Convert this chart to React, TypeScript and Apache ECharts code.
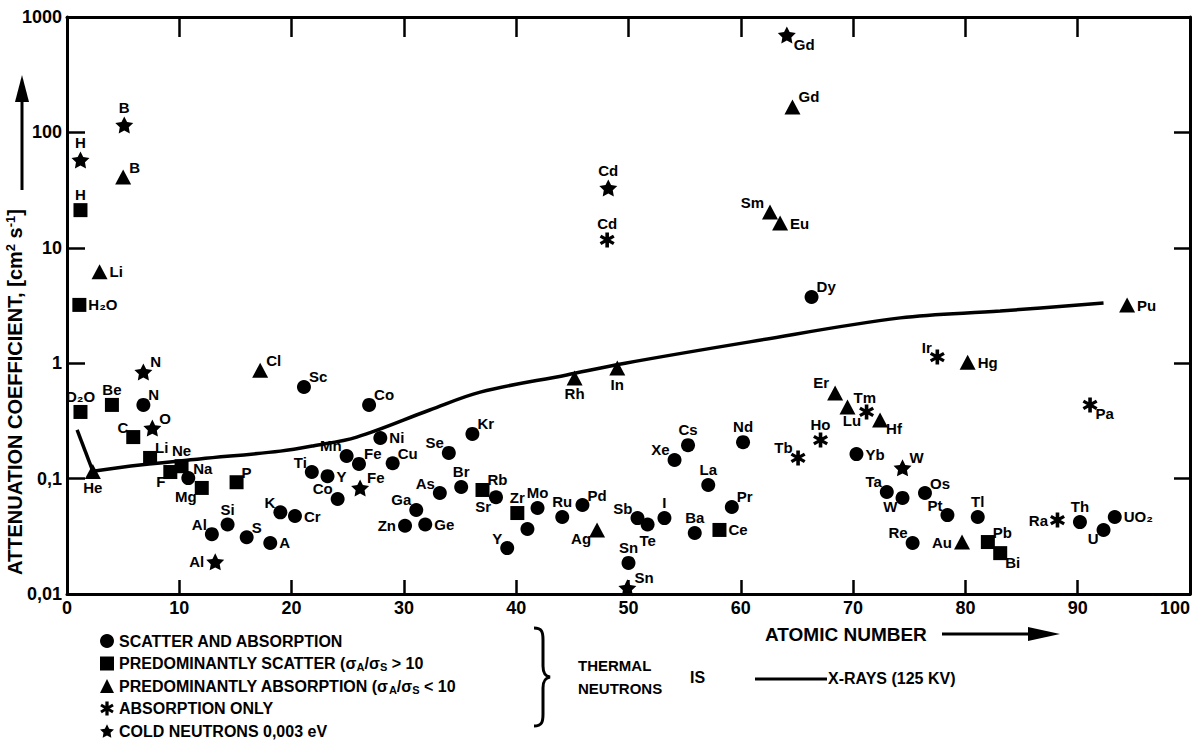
import React, { useEffect, useRef } from "react";
import * as echarts from "echarts";

// ---------- DATA ----------
const SERIES_NAMES = [
  "SCATTER AND ABSORPTION",
  "PREDOMINANTLY SCATTER (σA/σS > 10",
  "PREDOMINANTLY ABSORPTION (σA/σS < 10",
  "ABSORPTION ONLY",
  "COLD NEUTRONS 0,003 eV",
];

const CIRCLE_NAMES = ["N","Na","Al","Si","S","A","K","Cr","Sc","Ti","Y","Co","Mn","Fe","Co","Ni","Cu","Zn","Ga","Ge","As","Se","Br","Kr","Sr","Y","","Mo","Ru","Pd","Sn","Sb","Te","I","Xe","Cs","Ba","La","Pr","Nd","Dy","Yb","Ta","W","Re","Os","Pt","Tl","Th","U","UO₂"];
const CIRCLE_Z = [6.8,10.8,12.9,14.3,16.0,18.1,19.0,20.3,21.1,21.8,23.2,24.1,24.9,26.0,26.9,27.9,29.0,30.1,31.1,31.9,33.2,34.0,35.1,36.1,38.2,39.2,41.0,41.9,44.1,45.9,50.0,50.8,51.7,53.2,54.1,55.3,55.9,57.1,59.2,60.2,66.3,70.3,73.0,74.4,75.3,76.4,78.4,81.1,90.2,92.3,93.3];
const CIRCLE_V = [0.435,0.101,0.033,0.040,0.031,0.0277,0.051,0.0474,0.622,0.114,0.105,0.0666,0.157,0.134,0.435,0.225,0.136,0.039,0.0535,0.040,0.075,0.167,0.0845,0.244,0.069,0.025,0.0366,0.0556,0.0465,0.059,0.0186,0.0455,0.040,0.0455,0.145,0.195,0.0338,0.088,0.0568,0.207,3.75,0.163,0.0766,0.068,0.0277,0.075,0.0483,0.0465,0.042,0.0359,0.0465];

const SQUARE_NAMES = ["H","H₂O","D₂O","Be","C","Li","F","Ne","Mg","P","Rb","Zr","Ce","Pb","Bi"];
const SQUARE_Z = [1.2,1.1,1.2,4.0,5.9,7.4,9.2,10.2,12.0,15.1,37.0,40.1,58.1,82.0,83.1];
const SQUARE_V = [21.2,3.2,0.378,0.435,0.229,0.151,0.114,0.128,0.083,0.093,0.0797,0.0503,0.0359,0.0282,0.0226];

const TRIANGLE_NAMES = ["He","Li","B","Cl","Rh","Ag","In","Sm","Eu","Gd","Er","Tm","Hf","Au","Hg","Pu"];
const TRIANGLE_Z = [2.3,2.9,5.0,17.2,45.2,47.2,49.0,62.6,63.5,64.6,68.4,69.5,72.4,79.7,80.2,94.4];
const TRIANGLE_V = [0.115,6.2,41,0.87,0.745,0.0359,0.908,20.4,16.4,166,0.552,0.417,0.322,0.0282,1.02,3.19];

const ASTERISK_NAMES = ["Cd","Tb","Ho","Lu","Ir","Ra","Pa"];
const ASTERISK_Z = [48.1,65.1,67.1,71.2,77.5,88.2,91.1];
const ASTERISK_V = [11.7,0.151,0.216,0.378,1.13,0.0437,0.435];

const COLD_NAMES = ["H","B","N","O","Al","Fe","Cd","Gd","W","Sn"];
const COLD_Z = [1.2,5.1,6.8,7.6,13.2,26.1,48.2,64.1,74.4,49.9];
const COLD_V = [57.7,116,0.84,0.274,0.019,0.083,33,698,0.124,0.0113];

const XRAY_Z = [0.9,2.3,6.5,11.8,19.0,21.9,25.8,32.3,36.8,44.5,49.7,60.8,74.2,83.1,92.3];
const XRAY_V = [0.264,0.116,0.131,0.148,0.173,0.192,0.229,0.393,0.562,0.791,1.0,1.53,2.47,2.83,3.33];

const X_TICKS_MIN = 0;
const X_TICKS_MAX = 100;
const X_TICK_STEP = 10;
const Y_MIN = 0.01;
const Y_MAX = 1000;

// ---------- label placement (styling) ----------
const CIRCLE_LBL = ["tr","tr","tl","t","tr","r","tl","r","tr","tl","r","tl","tl","tr","tr","r","tr","l","tl","r","tl","tl","t","tr","bl","tl","t","t","t","tr","t","tl","b","t","tl","t","t","t","tr","t","tr","r","tl","bl","tl","tr","tl","t","t","bl","r"];
const SQUARE_LBL = ["t","r","t","t","tl","tr","bl","t","bl","tr","tr","t","r","tr","br"];
const TRIANGLE_LBL = ["b","r","tr","tr","b","bl","b","tl","r","tr","tl","tr","br","l","r","r"];
const ASTERISK_LBL = ["t","tl","t","bl","tl","l","br"];
const COLD_LBL = ["t","t","tr","tr","l","tr","t","br","tr","tr"];

const PLACE: Record<string, any> = {
  t: { position: "top", distance: 1 },
  b: { position: "bottom", distance: 1 },
  l: { position: "left", distance: 2 },
  r: { position: "right", distance: 2 },
  tr: { position: "right", distance: 0, offset: [-2, -10] },
  tl: { position: "left", distance: 0, offset: [2, -10] },
  br: { position: "right", distance: 0, offset: [-2, 9] },
  bl: { position: "left", distance: 0, offset: [2, 9] },
};

const FONT = "Liberation Sans";

const ASTERISK_PATH =
  "path://M-1.4,6L-1.4,-6L1.4,-6L1.4,6Z" +
  "M4.5,4.1L-5.8,-1.9L-4.5,-4.1L5.8,1.9Z" +
  "M-5.8,1.9L4.5,-4.1L5.8,-1.9L-4.5,4.1Z";
const STAR_PATH =
  "path://M0,-6L1.76,-2.43L5.71,-1.85L2.85,0.93L3.53,4.85L0,3L-3.53,4.85L-2.85,0.93L-5.71,-1.85L-1.76,-2.43Z";

let braceRegistered = false;
function registerBrace() {
  if (braceRegistered) return;
  braceRegistered = true;
  try {
    (echarts.graphic as any).registerShape(
      "brace",
      (echarts.graphic as any).extendPath(
        "M0,0 C8,0 9,4 9,12 L9,38 C9,45 11,48 16,49 C11,50 9,53 9,60 L9,86 C9,94 8,98 0,98",
        {}
      )
    );
  } catch (e) {
    /* ignore */
  }
}

function buildData(names: string[], zs: number[], vs: number[], codes: string[]) {
  return names.map((n, i) => ({
    name: n,
    value: [zs[i], vs[i]],
    label: { ...(PLACE[codes[i]] || PLACE.t) },
  }));
}

function legendFormatter(name: string) {
  const key = "σA/σS";
  const idx = name.indexOf(key);
  if (idx < 0) return "{n|" + name + "}";
  const before = name.slice(0, idx);
  const after = name.slice(idx + key.length);
  return "{n|" + before + "σ}{s|A}{n|/σ}{s|S}{n|" + after + "}";
}

export default function App() {
  const ref = useRef<HTMLDivElement>(null);

  useEffect(() => {
    if (!ref.current) return;
    registerBrace();
    const chart = echarts.init(ref.current, undefined, { renderer: "svg" });

    const labelBase = {
      show: true,
      formatter: "{b}",
      color: "#000",
      fontSize: 15,
      fontWeight: "bold",
      fontFamily: FONT,
    };
    const scatterBase = (name: string, symbol: string, size: any, data: any[]) => ({
      name,
      type: "scatter",
      symbol,
      symbolSize: size,
      itemStyle: { color: "#000", opacity: 1 },
      label: labelBase,
      data,
      z: 5,
      clip: false,
    });

    const xrayData = XRAY_Z.map((z, i) => [z, XRAY_V[i]]);

    const axisLine = { show: true, onZero: false, lineStyle: { color: "#000", width: 3 } };

    const option: any = {
      animation: false,
      backgroundColor: "#fff",
      grid: {
        left: 67,
        right: 6,
        top: 17,
        bottom: 160,
        outerBoundsMode: "none",
        containLabel: false,
      },
      xAxis: [
        {
          type: "value",
          min: X_TICKS_MIN,
          max: X_TICKS_MAX,
          interval: X_TICK_STEP,
          position: "bottom",
          axisLine,
          axisTick: { show: true, inside: true, length: 14, lineStyle: { color: "#000", width: 2.5 } },
          axisLabel: {
            color: "#000",
            fontSize: 18,
            fontWeight: "bold",
            fontFamily: FONT,
            margin: 5,
            alignMaxLabel: "right",
          },
          splitLine: { show: false },
        },
        {
          type: "value",
          min: X_TICKS_MIN,
          max: X_TICKS_MAX,
          interval: X_TICK_STEP,
          position: "top",
          axisLine,
          axisTick: { show: true, inside: true, length: 20, lineStyle: { color: "#000", width: 2.5 } },
          axisLabel: { show: false },
          splitLine: { show: false },
        },
      ],
      yAxis: [
        {
          type: "log",
          logBase: 10,
          min: Y_MIN,
          max: Y_MAX,
          position: "left",
          axisLine,
          axisTick: { show: true, inside: true, length: 18, lineStyle: { color: "#000", width: 2.5 } },
          minorTick: { show: false },
          axisLabel: {
            color: "#000",
            fontSize: 18,
            fontWeight: "bold",
            fontFamily: FONT,
            margin: 5,
            formatter: (v: number) => String(Number(v.toPrecision(4))).replace(".", ","),
          },
          splitLine: { show: false },
        },
        {
          type: "log",
          logBase: 10,
          min: Y_MIN,
          max: Y_MAX,
          position: "right",
          axisLine,
          axisTick: { show: true, inside: true, length: 16, lineStyle: { color: "#000", width: 2.5 } },
          axisLabel: { show: false },
          splitLine: { show: false },
        },
      ],
      legend: {
        orient: "vertical",
        left: 100,
        top: 632,
        padding: 0,
        itemWidth: 14,
        itemHeight: 14,
        itemGap: 4.5,
        selectedMode: false,
        data: SERIES_NAMES,
        formatter: legendFormatter,
        textStyle: {
          color: "#000",
          fontSize: 16,
          fontWeight: "bold",
          fontFamily: FONT,
          lineHeight: 18,
          rich: {
            n: { color: "#000", fontSize: 16, fontWeight: "bold", fontFamily: FONT, lineHeight: 18 },
            s: { color: "#000", fontSize: 11, fontWeight: "bold", fontFamily: FONT, lineHeight: 11, verticalAlign: "bottom" },
          },
        },
      },
      series: [
        {
          name: "X-RAYS (125 KV) a",
          type: "line",
          data: xrayData.slice(0, 2),
          symbol: "none",
          smooth: false,
          lineStyle: { color: "#000", width: 3.5 },
          z: 2,
          silent: true,
        },
        {
          name: "X-RAYS (125 KV)",
          type: "line",
          data: xrayData.slice(1),
          symbol: "none",
          smooth: 0.35,
          lineStyle: { color: "#000", width: 3.5 },
          z: 2,
          silent: true,
        },
        scatterBase(SERIES_NAMES[0], "circle", 14, buildData(CIRCLE_NAMES, CIRCLE_Z, CIRCLE_V, CIRCLE_LBL)),
        scatterBase(SERIES_NAMES[1], "rect", 14, buildData(SQUARE_NAMES, SQUARE_Z, SQUARE_V, SQUARE_LBL)),
        scatterBase(SERIES_NAMES[2], "triangle", [16, 15], buildData(TRIANGLE_NAMES, TRIANGLE_Z, TRIANGLE_V, TRIANGLE_LBL)),
        scatterBase(SERIES_NAMES[3], ASTERISK_PATH, 15, buildData(ASTERISK_NAMES, ASTERISK_Z, ASTERISK_V, ASTERISK_LBL)),
        scatterBase(SERIES_NAMES[4], STAR_PATH, [18, 17], buildData(COLD_NAMES, COLD_Z, COLD_V, COLD_LBL)),
      ],
      graphic: [
        {
          type: "text",
          x: 15,
          y: 392,
          rotation: Math.PI / 2,
          style: {
            text: "{n|ATTENUATION COEFFICIENT, [cm}{p|2}{n| s}{p|-1}{n|]}",
            align: "center",
            verticalAlign: "middle",
            fill: "#000",
            font: "bold 20px " + FONT,
            rich: {
              n: { fill: "#000", fontSize: 20, fontWeight: "bold", fontFamily: FONT, lineHeight: 22 },
              p: { fill: "#000", fontSize: 13, fontWeight: "bold", fontFamily: FONT, lineHeight: 13, verticalAlign: "top" },
            },
          },
        },
        {
          type: "line",
          shape: { x1: 22, y1: 190, x2: 22, y2: 96 },
          style: { stroke: "#000", lineWidth: 3 },
        },
        {
          type: "polygon",
          shape: { points: [[15, 102], [29, 102], [22, 75]] },
          style: { fill: "#000" },
        },
        {
          type: "text",
          x: 765,
          y: 634,
          style: {
            text: "ATOMIC NUMBER",
            fill: "#000",
            font: "bold 19px " + FONT,
            align: "left",
            verticalAlign: "middle",
          },
        },
        {
          type: "line",
          shape: { x1: 942, y1: 634, x2: 1035, y2: 634 },
          style: { stroke: "#000", lineWidth: 3 },
        },
        {
          type: "polygon",
          shape: { points: [[1028, 627], [1060, 634], [1028, 641]] },
          style: { fill: "#000" },
        },
        {
          type: "brace",
          x: 534,
          y: 628,
          style: { stroke: "#000", lineWidth: 3, fill: "none" },
        },
        {
          type: "text",
          x: 578,
          y: 665,
          style: { text: "THERMAL", fill: "#000", font: "bold 15px " + FONT, align: "left", verticalAlign: "middle" },
        },
        {
          type: "text",
          x: 578,
          y: 688,
          style: { text: "NEUTRONS", fill: "#000", font: "bold 15px " + FONT, align: "left", verticalAlign: "middle" },
        },
        {
          type: "text",
          x: 690,
          y: 677,
          style: { text: "IS", fill: "#000", font: "bold 16px " + FONT, align: "left", verticalAlign: "middle" },
        },
        {
          type: "line",
          shape: { x1: 755, y1: 679, x2: 827, y2: 679 },
          style: { stroke: "#000", lineWidth: 3 },
        },
        {
          type: "text",
          x: 828,
          y: 678,
          style: { text: "X-RAYS (125 KV)", fill: "#000", font: "bold 16px " + FONT, align: "left", verticalAlign: "middle" },
        },
      ],
    };

    chart.setOption(option);
    return () => {
      chart.dispose();
    };
  }, []);

  return (
    <div
      ref={ref}
      style={{ position: "fixed", left: 0, top: 0, width: 1196, height: 754, background: "#fff" }}
    />
  );
}
